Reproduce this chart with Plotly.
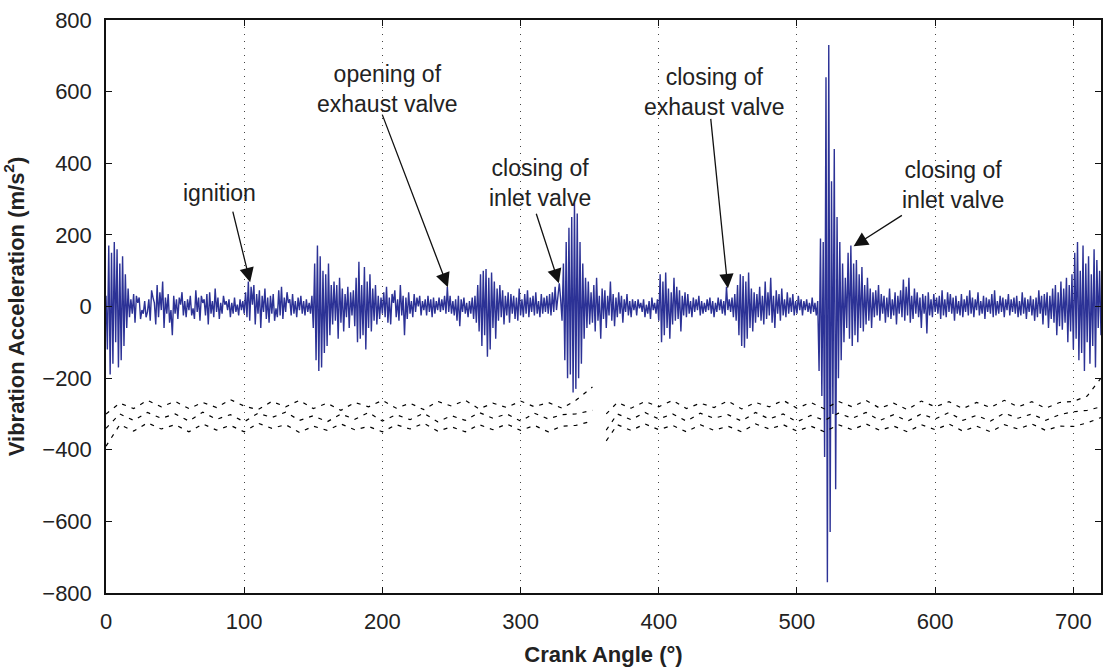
import numpy as np
import plotly.graph_objects as go

# ---- vibration acceleration (m/s^2), one sample per crank degree ----
accel_000 = [
    30, -120, 170, -190, 150, -160, 180, -100, 160, -170,
    120, -150, 140, -110, 90, -60, 50, -30, 20, -20,
    35, -45, 30, 10, 25, -35, -10, -20, 15, -30,
    -15, 20, -40, 45, 25, 10, -50, 60, -30, 40,
    -10, 70, -60, 25, -20, 35, -45, -10, -80, 30,
    -20, 20, -35, 25, 5, 40, -25, 15, -30, 20,
    -10, 30, -25, -5, -35, 45, -15, 25, -40, 30,
    10, 20, -25, 35, -50, 40, -20, 15, -30, 50,
    -15, 25, -35, 10, -20, 30, 5, 15, -10, 20,
    -30, 10, -20, 25, -15, 5, -25, 20, -10, 15,
]
accel_100 = [
    -20, 40, -30, 70, -40, 55, 5, 60, -50, 35,
    -20, 45, -60, 30, -15, 50, -35, 25, -45, 30,
    -20, 35, -40, -5, -30, 45, -25, 55, -35, 25,
    -15, 40, 10, 20, -25, 35, -20, 15, -30, 25,
    -10, 30, -20, 15, -25, 20, -15, 10, -20, 30,
    -60, 120, -150, 170, -180, 140, -170, 100, -130, 90,
    -110, 120, -80, 60, -50, 70, -40, 60, -90, 80,
    -45, 50, -70, 35, -30, 55, -60, 40, -25, 45,
    -55, 80, -100, 125, -90, 60, -80, 110, -120, 70,
    -60, 90, -70, 50, -40, 60, -50, 30, -35, 25,
]
accel_200 = [
    -20, 40, -30, 55, -45, 25, -50, 35, 10, 45,
    -30, 20, -40, 60, -25, 30, -80, 25, -35, 40,
    -20, 15, -30, 35, -15, 25, 0, 30, -25, 15,
    -10, 20, -25, 30, -15, 20, -30, 25, -20, 15,
    -10, 25, -15, 20, -10, 30, -20, 55, -15, 30,
    -20, 15, -25, 20, -40, 30, -55, 20, -15, 25,
    -20, 10, -30, 15, -20, 25, -35, 30, -45, 60,
    -70, 90, -110, 100, -80, 105, -140, 80, -120, 95,
    -60, 70, -90, 50, -40, 60, -30, 45, -50, 30,
    -25, 40, -45, 35, -20, 30, -35, 25, -40, 50,
]
accel_300 = [
    -25, 20, -30, 35, -20, 45, -30, 25, -15, 30,
    -25, 40, -20, 15, -30, 35, -20, 25, -15, 30,
    -20, 35, -25, 40, -15, 55, -10, 30, 65, 20,
    -40, 120, -150, 180, -200, 220, -190, 250, -240, 290,
    -230, 260, -200, 180, -160, 120, -90, 80, -60, 70,
    -50, 40, -45, 60, -70, 80, -40, 30, -90, 50,
    -35, 45, -60, 30, -25, 70, -40, 35, -55, 25,
    -30, 40, -20, 30, -45, 20, -15, 35, -25, 15,
    -30, 20, -10, 15, -25, 20, -5, 10, -15, 20,
    -30, 5, -20, 15, -35, 25, -10, 10, -20, 20,
]
accel_400 = [
    -40, 90, -100, 70, -80, 95, -60, 50, -90, 40,
    -50, 80, -40, 55, -35, 45, -70, 30, -25, 40,
    -30, 35, -20, 15, -30, 25, -15, 20, -10, 30,
    -25, 15, -20, 10, -15, 20, -10, 25, -20, 15,
    -30, 10, -15, 25, -10, 20, -20, 15, -25, 55,
    -10, 20, -15, 25, -30, 35, -40, 60, -80, 90,
    -110, 85, -115, 70, -90, 95, -60, 50, -70, 40,
    -45, 35, -30, 55, -40, 30, -50, 70, -35, 40,
    -25, 80, -45, 30, -60, 45, -20, 35, -40, 50,
    -25, 20, -30, 40, -20, 25, -15, 35, -25, 15,
]
accel_500 = [
    -20, 30, -10, 20, -25, 15, -10, 20, -15, 10,
    -20, 25, -15, 10, -25, 15, -180, 190, -250, 180,
    -420, 640, -770, 730, -630, 350, -300, 440, -510, 250,
    -200, 180, -150, 120, -100, 80, -60, 150, -90, 170,
    -110, 120, -80, 130, -100, 90, -60, 110, -70, 60,
    -50, 80, -40, 50, -60, 40, -30, 45, -25, 60,
    -40, 35, -20, 30, -45, 25, -30, 50, -35, 20,
    -25, 40, -50, 30, -20, 45, -30, 75, -40, 55,
    -25, 80, -45, 30, -35, 50, -20, 40, -30, 25,
    -60, 35, -20, 30, -75, 40, -25, 20, -30, 35,
]
accel_600 = [
    -15, 25, -20, 30, -35, 45, -25, 20, -30, 40,
    -15, 35, -20, 25, -40, 30, -20, 15, -25, 35,
    -30, 20, -15, 30, -25, 45, -20, 25, -30, 20,
    -10, 40, -25, 15, -20, 30, -35, 25, -15, 20,
    -20, 35, -30, 45, -25, 15, -20, 30, -15, 25,
    -30, 20, -10, 35, -25, 20, -15, 25, -20, 30,
    -30, 15, -25, 40, -20, 25, -35, 20, -15, 30,
    -25, 20, -40, 25, -30, 45, -20, 30, -50, 35,
    -25, 40, -60, 30, -35, 50, -45, 60, -80, 40,
    -55, 70, -65, 50, -45, 80, -100, 60, -70, 90,
]
accel_700 = [
    -120, 150, -90, 180, -150, 100, -130, 170, -180, 120,
    -100, 140, -160, 90, -110, 160, -170, 130, -60, 100,
    -80,
]

# ---- dashed reference traces (offset band near -300) ----
dash_x_left = [0, 10, 20, 30, 40, 50, 60, 70, 80, 90, 100, 110, 120, 130, 140, 150, 160, 170,
               180, 190, 200, 210, 220, 230, 240, 250, 260, 270, 280, 290, 300, 310, 320, 330, 340, 352]
dashA_left = [-300, -270, -285, -262, -280, -265, -285, -268, -282, -260, -278, -288, -265, -280, -262, -285, -270, -290,
              -268, -280, -262, -284, -270, -288, -265, -278, -262, -286, -270, -282, -264, -280, -268, -284, -262, -225]
dashB_left = [-340, -300, -318, -296, -312, -300, -320, -295, -315, -302, -322, -298, -310, -295, -318, -305, -322, -300,
              -315, -296, -320, -302, -316, -298, -322, -305, -318, -296, -312, -300, -320, -298, -314, -302, -300, -290]
dashC_left = [-390, -330, -348, -325, -342, -330, -350, -328, -345, -332, -350, -326, -340, -330, -352, -334, -346, -328,
              -344, -335, -350, -330, -342, -326, -348, -336, -350, -330, -344, -328, -346, -332, -350, -334, -332, -320]

dash_x_right = [362, 370, 380, 390, 400, 410, 420, 430, 440, 450, 460, 470, 480, 490, 500, 510, 520, 530, 540,
                550, 560, 570, 580, 590, 600, 610, 620, 630, 640, 650, 660, 670, 680, 690, 700, 710, 720]
dashA_right = [-300, -268, -284, -265, -280, -262, -285, -270, -282, -264, -286, -268, -280, -262, -284, -268, -286, -265, -280,
               -262, -284, -270, -288, -264, -280, -266, -285, -268, -282, -262, -280, -266, -284, -268, -265, -250, -200]
dashB_right = [-345, -300, -316, -296, -314, -300, -320, -298, -312, -302, -320, -296, -314, -300, -322, -304, -318, -298, -312,
               -296, -318, -302, -320, -300, -314, -296, -318, -304, -320, -298, -312, -300, -318, -302, -294, -290, -280]
dashC_right = [-375, -330, -346, -328, -344, -332, -350, -330, -346, -334, -350, -328, -342, -330, -348, -334, -350, -330, -344,
               -328, -346, -334, -350, -330, -344, -328, -348, -334, -350, -330, -342, -328, -346, -334, -335, -325, -310]

# ---- annotations: (text, text_x, text_y, tail_x, tail_y, tip_x, tip_y) ----
ann_text = ["ignition", "opening of<br>exhaust valve", "closing of<br>inlet valve",
            "closing of<br>exhaust valve", "closing of<br>inlet valve"]
ann_text_x = [82, 203.5, 314, 440, 613]
ann_text_y = [316, 607, 344, 598, 338]
ann_tail_x = [91.5, 199.5, 311, 437.5, 577]
ann_tail_y = [269, 540, 263, 528, 257]
ann_tip_x = [104.3, 247.4, 327.7, 450, 541]
ann_tip_y = [68, 54, 65, 51, 168]

accel = accel_000 + accel_100 + accel_200 + accel_300 + accel_400 + accel_500 + accel_600 + accel_700
crank = np.arange(len(accel))

FONT = "Liberation Sans, Arial, Helvetica, sans-serif"
BLUE = "rgb(44,50,150)"

fig = go.Figure()
fig.add_trace(go.Scatter(x=crank, y=accel, mode="lines",
                         line=dict(color=BLUE, width=1.4), showlegend=False, hoverinfo="skip"))
for xs, ys in [(dash_x_left, dashA_left), (dash_x_left, dashB_left), (dash_x_left, dashC_left),
               (dash_x_right, dashA_right), (dash_x_right, dashB_right), (dash_x_right, dashC_right)]:
    fig.add_trace(go.Scatter(x=xs, y=ys, mode="lines",
                             line=dict(color="black", width=1.2, dash="4px,6px"),
                             showlegend=False, hoverinfo="skip"))

for t, tx, ty, ax_, ay_, px_, py_ in zip(ann_text, ann_text_x, ann_text_y,
                                          ann_tail_x, ann_tail_y, ann_tip_x, ann_tip_y):
    fig.add_annotation(x=tx, y=ty, xref="x", yref="y", text=t, showarrow=False,
                       font=dict(family=FONT, size=23, color="#222"), align="center")
    fig.add_annotation(x=px_, y=py_, xref="x", yref="y", ax=ax_, ay=ay_, axref="x", ayref="y",
                       text="", showarrow=True, arrowhead=2, arrowsize=2.2, arrowwidth=1.3,
                       arrowcolor="#111", standoff=0)

fig.update_layout(
    width=1105, height=667,
    margin=dict(l=106, r=2, t=20, b=74),
    paper_bgcolor="white", plot_bgcolor="white",
    font=dict(family=FONT, size=22, color="#222"),
    showlegend=False,
)
fig.update_xaxes(
    range=[0, 720], tickvals=[0, 100, 200, 300, 400, 500, 600, 700],
    showline=True, linecolor="#111", linewidth=1.5, mirror="ticks",
    ticks="inside", ticklen=6, tickcolor="#111", tickwidth=1,
    showgrid=True, gridcolor="#444", gridwidth=1, griddash="1px,6px",
    zeroline=False, ticklabelstandoff=8,
    title=dict(text="<b>Crank Angle (°)</b>", font=dict(size=22, family=FONT), standoff=14),
)
fig.update_yaxes(
    range=[-800, 800], tickvals=[-800, -600, -400, -200, 0, 200, 400, 600, 800],
    showline=True, linecolor="#111", linewidth=1.5, mirror="ticks",
    ticks="inside", ticklen=6, tickcolor="#111", tickwidth=1,
    showgrid=False, zeroline=False, ticklabelstandoff=8,
    title=dict(text="<b>Vibration Acceleration (m/s<sup>2</sup>)</b>", font=dict(size=22, family=FONT), standoff=12),
)

fig.write_html("out.html")
